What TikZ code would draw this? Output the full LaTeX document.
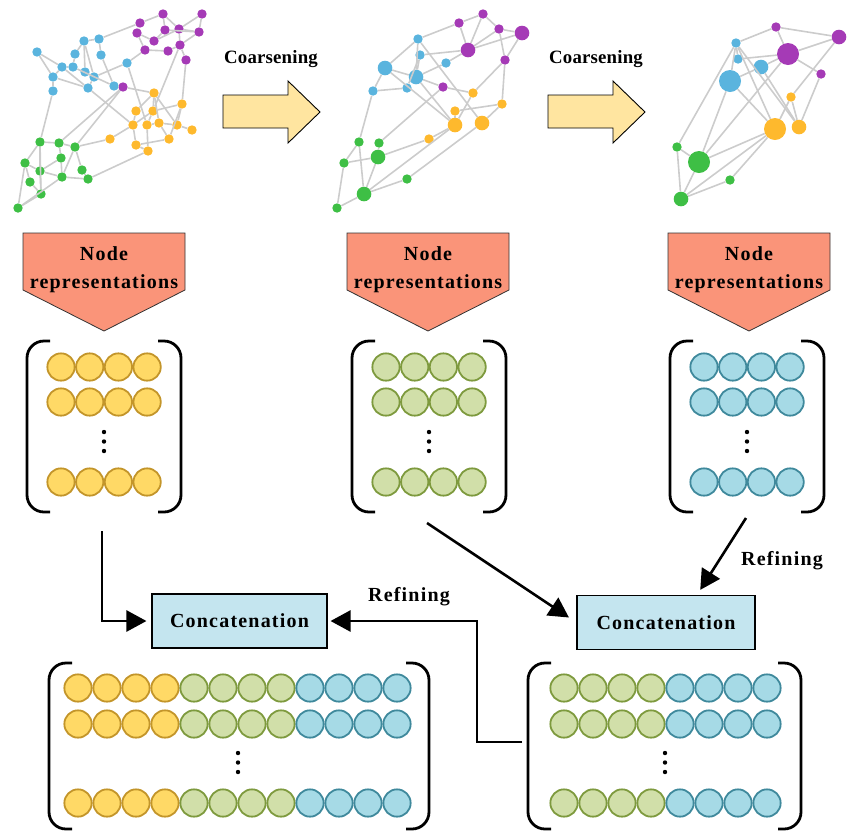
\documentclass[tikz,border=0pt]{standalone}
\usepackage{fontspec}
\setmainfont{Liberation Serif}
\newfontfamily\lblfont[LetterSpace=6]{Liberation Serif}
\newfontfamily\crsfont[LetterSpace=1]{Liberation Serif}
\usetikzlibrary{arrows.meta,calc}
\definecolor{gpur}{HTML}{A53AB6}
\definecolor{gblu}{HTML}{5AB4DE}
\definecolor{gyel}{HTML}{FEB92D}
\definecolor{ggrn}{HTML}{3EBF45}
\definecolor{gedge}{HTML}{CCCCCC}
\definecolor{yfill}{HTML}{FFD966}
\definecolor{ydraw}{HTML}{C3952A}
\definecolor{lgfill}{HTML}{D1DFA9}
\definecolor{lgdraw}{HTML}{7E9A3E}
\definecolor{lbfill}{HTML}{A6DAE6}
\definecolor{lbdraw}{HTML}{3F899C}
\definecolor{pentfill}{HTML}{FA9479}
\definecolor{crsfill}{HTML}{FFE5A0}
\definecolor{catfill}{HTML}{C4E5EF}
\begin{document}
\begin{tikzpicture}[x=1pt,y=-1pt,
  gnode/.style={circle,inner sep=0pt,draw=none},
  edge/.style={draw=gedge,line width=1.6pt},
  mc/.style={circle,inner sep=0pt,minimum size=27.3pt,line width=1.8pt},
  ymc/.style={mc,fill=yfill,draw=ydraw},
  gmc/.style={mc,fill=lgfill,draw=lgdraw},
  bmc/.style={mc,fill=lbfill,draw=lbdraw},
  brk/.style={line width=2.8pt,rounded corners=17pt},
  pent/.style={fill=pentfill,draw=black!80,line width=0.8pt},
  crs/.style={fill=crsfill,draw=black,line width=0.9pt},
  lbl/.style={font=\lblfont\bfseries\fontsize{20}{28}\selectfont,align=center,inner sep=0pt},
  crslbl/.style={font=\crsfont\bfseries\fontsize{18.8}{22}\selectfont,inner sep=0pt},
  reflbl/.style={font=\lblfont\bfseries\fontsize{20}{24}\selectfont,inner sep=0pt},
  catbox/.style={draw=black,line width=1.1pt,fill=catfill,minimum height=54pt,
     font=\lblfont\bfseries\fontsize{20}{24}\selectfont},
  arr/.style={line width=2.6pt,-{Triangle[length=20pt,width=21pt]}},
  dotm/.style={fill=black}
]
\useasboundingbox (0,0) rectangle (849,831);

% ---------- Graph 1 ----------
\def\GA{p1/163/14/gpur,p2/202/14/gpur,p3/140/23/gpur,p4/137/33/gpur,p5/165/30/gpur,p6/179/29/gpur,p7/199/32/gpur,p8/154/41/gpur,p9/145/50/gpur,p10/168/51/gpur,p11/180/45/gpur,p12/186/60/gpur,p13/123/87/gpur,b1/37/52/gblu,b2/84/41/gblu,b3/99/39/gblu,b4/75/54/gblu,b5/101/55/gblu,b6/62/67/gblu,b7/73/67/gblu,b8/85/72/gblu,b9/94/77/gblu,b10/53/77/gblu,b11/127/63/gblu,b12/53/91/gblu,b13/88/88/gblu,b14/114/86/gblu,y1/154/93/gyel,y2/182/104/gyel,y3/136/111/gyel,y4/153/111/gyel,y5/133/125/gyel,y6/147/125/gyel,y7/159/123/gyel,y8/177/125/gyel,y9/192/130/gyel,y10/110/139/gyel,y11/169/139/gyel,y12/136/145/gyel,y13/148/151/gyel,g1/40/142/ggrn,g2/59/143/ggrn,g3/75/147/ggrn,g4/61/158/ggrn,g5/25/163/ggrn,g6/40/171/ggrn,g7/82/170/ggrn,g8/62/177/ggrn,g9/88/179/ggrn,g10/30/182/ggrn,g11/41/194/ggrn,g12/18/208/ggrn}
\foreach \n/\x/\y/\c in \GA {\node[gnode,fill=\c,minimum size=9.4pt] (A\n) at (\x,\y) {};}
\foreach \u/\v in {p3/p1,p1/p5,p1/p6,p2/p7,p2/p6,p3/p4,p4/p8,p8/p5,p8/p6,p5/p7,p6/p7,p9/p10,p10/p11,p11/p12,p6/p11,p7/p11,p4/p9,p3/b3,p9/b11,p12/y2,p11/y4,b11/y6,b1/b6,b1/b10,b2/b3,b2/b4,b3/b5,b2/b8,b4/b7,b6/b7,b6/b10,b10/b12,b10/b13,b7/b14,b8/b9,b9/b11,b5/b14,b13/b9,b6/b13,b2/b9,b13/y5,b14/p13,p13/y1,b12/g1,p13/g2,p13/g3,y1/y3,y1/y4,y1/y7,y1/y8,y2/y4,y2/y8,y2/y11,y3/y5,y4/y6,y5/y10,y6/y7,y7/y11,y8/y9,y5/y12,y6/y13,y12/y13,y12/y11,y10/g3,y13/g9,y4/y5,y7/y8,g1/g2,g2/g3,g1/g5,g1/g6,g2/g4,g3/g7,g4/g6,g4/g8,g5/g10,g5/g6,g6/g11,g6/g8,g8/g9,g7/g9,g10/g11,g11/g12,g12/g5,g12/g8,g3/g8,g1/g11}
  {\draw[edge] (A\u) -- (A\v);}

% ---------- Graph 2 ----------
\def\GB{p1/483/14/gpur/9.4,p2/459/23/gpur/9.4,p3/499/29/gpur/9.4,p4/522/33/gpur/14.6,p5/468/50/gpur/14.6,p6/505/60/gpur/9.4,p7/443/87/gpur/9.4,b1/418/39/gblu/9.4,b2/420/55/gblu/9.4,b3/446/63/gblu/9.4,b4/385/68/gblu/14.6,b5/416/77/gblu/14.6,b6/373/91/gblu/9.4,b7/407/88/gblu/9.4,y1/473/93/gyel/9.4,y2/502/104/gyel/9.4,y3/455/111/gyel/9.4,y4/455/125/gyel/14.6,y5/482/123/gyel/14.6,y6/429/139/gyel/9.4,g1/359/142/ggrn/9.4,g2/379/143/ggrn/9.4,g3/378/157/ggrn/14.6,g4/344/163/ggrn/9.4,g5/407/179/ggrn/9.4,g6/364/194/ggrn/14.6,g7/337/208/ggrn/9.4}
\foreach \n/\x/\y/\c/\d in \GB {\node[gnode,fill=\c,minimum size=\d pt] (B\n) at (\x,\y) {};}
\foreach \u/\v in {p2/p1,p1/p3,p1/p5,p2/p5,p3/p4,p3/p6,p5/p4,p5/p3,p4/p6,p2/b1,b1/b4,b1/b5,b1/y5,b2/b5,b2/p5,b3/p5,b3/b5,b4/b5,b4/b6,b4/y4,b5/p7,b5/y4,b6/b7,b7/b2,b6/g1,p7/y1,p7/g2,y1/y4,y1/p6,p6/y2,y2/y3,y2/y5,y3/y4,y4/y6,y4/g6,y5/g5,y6/g3,g1/g6,g1/g4,g3/g4,g3/g6,g2/g3,g4/g7,g7/g6,g6/g5}
  {\draw[edge] (B\u) -- (B\v);}

% ---------- Graph 3 ----------
\def\GC{p1/776/27/gpur/9.4,p2/839/37/gpur/14.6,p3/788/54/gpur/22,p4/821/74/gpur/9.4,b1/736/43/gblu/9.4,b2/738/59/gblu/9.4,b3/761/67/gblu/14.6,b4/730/81/gblu/22,y1/791/97/gyel/9.4,y2/775/129/gyel/22,y3/799/127/gyel/14.6,g1/677/147/ggrn/9.4,g2/699/162/ggrn/22,g3/730/180/ggrn/9.4,g4/681/199/ggrn/14.6}
\foreach \n/\x/\y/\c/\d in \GC {\node[gnode,fill=\c,minimum size=\d pt] (C\n) at (\x,\y) {};}
\foreach \u/\v in {p1/b1,p1/p3,p1/p2,p2/p3,p2/y1,b1/b2,b1/b4,b1/y2,b1/y3,b1/g1,b2/p3,b3/p3,b4/b3,p3/p4,p3/g2,b3/y3,b4/y2,b4/g2,y1/y2,y1/y3,p4/y3,y2/g2,y2/g4,y2/g3,g1/g2,g1/g4,g2/g4,g3/g4}
  {\draw[edge] (C\u) -- (C\v);}

% ---------- Coarsening arrows ----------
\foreach \s/\k in {0/1,325/2} {
  \draw[crs] (223+\s,95) -- (288+\s,95) -- (288+\s,81) -- (320+\s,112) -- (288+\s,143) -- (288+\s,128) -- (223+\s,128) -- cycle;
  \node[crslbl] (coarse\k) at (271+\s,59) {Coarsening};
}

% ---------- Pentagons ----------
\foreach \s/\k in {0/1,324/2,645/3} {
  \draw[pent] (23+\s,233) -- (185+\s,233) -- (185+\s,290) -- (104+\s,331) -- (23+\s,290) -- cycle;
  \node[lbl] (nrep\k) at (104+\s,270) {Node\\representations};
}

% ---------- Small matrices ----------
\foreach \s/\k/\sty in {0/1/ymc,325/2/gmc,643/3/bmc} {
  \draw[brk] (50+\s,341) -- (27+\s,341) -- (27+\s,512) -- (50+\s,512);
  \draw[brk] (158+\s,341) -- (181+\s,341) -- (181+\s,512) -- (158+\s,512);
  \foreach \r/\yy in {1/367,2/402,3/482} {
    \foreach \i in {0,1,2,3} {\node[\sty] (m\k r\r c\i) at ({61+\s+28.7*\i},\yy) {};}
  }
  \foreach \d in {0,1,2} {\fill[dotm] ({104+\s},{432+9.5*\d}) circle (2.2);}
}

% ---------- Big matrix 1 ----------
\draw[brk] (72,663) -- (49,663) -- (49,829) -- (72,829);
\draw[brk] (406,663) -- (429,663) -- (429,829) -- (406,829);
\foreach \r/\yy in {1/688,2/724,3/803} {
  \foreach \i in {0,1,2,3} {\node[ymc] (bma r\r c\i) at ({78+29*\i},\yy) {};}
  \foreach \i in {4,5,6,7} {\node[gmc] (bma r\r c\i) at ({78+29*\i},\yy) {};}
  \foreach \i in {8,9,10,11} {\node[bmc] (bma r\r c\i) at ({78+29*\i},\yy) {};}
}
\foreach \d in {0,1,2} {\fill[dotm] (238,{753+9.5*\d}) circle (2.2);}

% ---------- Big matrix 2 ----------
\draw[brk] (551,663) -- (528,663) -- (528,829) -- (551,829);
\draw[brk] (778,663) -- (801,663) -- (801,829) -- (778,829);
\foreach \r/\yy in {1/688,2/724,3/803} {
  \foreach \i in {0,1,2,3} {\node[gmc] (bmb r\r c\i) at ({564+29*\i},\yy) {};}
  \foreach \i in {4,5,6,7} {\node[bmc] (bmb r\r c\i) at ({564+29*\i},\yy) {};}
}
\foreach \d in {0,1,2} {\fill[dotm] (665,{753+9.5*\d}) circle (2.2);}

% ---------- Concatenation boxes ----------
\node[catbox,minimum width=175pt] (cat1) at (239.5,621) {Concatenation};
\node[catbox,minimum width=178pt] (cat2) at (666,622.5) {Concatenation};

% ---------- Arrows ----------
\coordinate (m1out) at (102,531);
\coordinate (m2out) at (427,523);
\coordinate (m3out) at (746,518);
\coordinate (bm2out) at (522,742);
\draw[arr,shorten >=5pt] (m1out) |- (cat1.west);
\draw[arr,shorten >=9pt] (m2out) -- (cat2.west);
\draw[arr,shorten >=6pt] (m3out) -- ([xshift=31pt]cat2.north);
\draw[arr,shorten >=3pt] (bm2out) -- (477,742) |- (cat1.east);
\node[reflbl] (ref1) at (409,597) {Refining};
\node[reflbl] (ref2) at (782,561) {Refining};
\end{tikzpicture}
\end{document}
